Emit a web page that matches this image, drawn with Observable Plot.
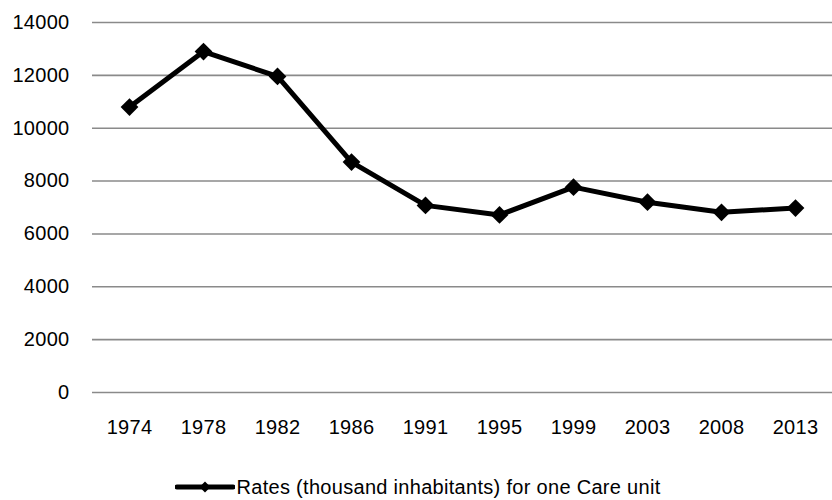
<!DOCTYPE html>
<html>
<head>
<meta charset="utf-8">
<script src="https://cdn.jsdelivr.net/npm/d3@7"></script>
<script src="https://cdn.jsdelivr.net/npm/@observablehq/plot@0.6"></script>
<style>
  html, body { margin: 0; padding: 0; background: #fff; }
  body { width: 832px; font-family: "Liberation Sans", Arial, Helvetica, sans-serif; }
  #legend {
    display: flex; justify-content: center; align-items: center;
    height: 24px; margin-top: 13px; font-size: 20px; letter-spacing: 0.3px; color: #000;
    padding-left: 4px;
  }
  #legend svg { display: block; margin-right: 1px; }
</style>
</head>
<body>
<div id="chart"></div>
<div id="legend"></div>
<script>
// Years surveyed and the matching rate of thousand inhabitants per care unit
const years = ["1974", "1978", "1982", "1986", "1991", "1995", "1999", "2003", "2008", "2013"];
const rates = [10800, 12900, 11960, 8720, 7080, 6720, 7770, 7200, 6820, 6980];
const yTicks = [0, 2000, 4000, 6000, 8000, 10000, 12000, 14000];
const seriesName = "Rates (thousand inhabitants) for one Care unit";

const data = years.map((year, i) => ({year, rate: rates[i]}));

const chart = Plot.plot({
  width: 832,
  height: 462,
  marginTop: 22,
  marginBottom: 70,
  marginLeft: 92,
  marginRight: 0,
  style: {fontFamily: '"Liberation Sans", Arial, Helvetica, sans-serif', fontSize: "20px", letterSpacing: "0.3px", color: "#000", background: "#fff"},
  x: {type: "band", domain: years, padding: 0, align: 0.5, label: null, tickSize: 0, tickPadding: 27},
  y: {domain: [0, 14000], ticks: yTicks, label: null, tickSize: 0, tickPadding: 23, tickFormat: d => String(d)},
  marks: [
    Plot.ruleY(yTicks, {stroke: "#8a8a8a", strokeWidth: 1.6}),
    Plot.line(data, {x: "year", y: "rate", stroke: "#000", strokeWidth: 5, strokeLinejoin: "round"}),
    Plot.dot(data, {x: "year", y: "rate", symbol: "diamond2", r: 8, fill: "#000", stroke: "none"})
  ]
});
document.getElementById("chart").appendChild(chart);

// Legend: line sample with a diamond marker, then the series name
const legend = document.getElementById("legend");
const ns = "http://www.w3.org/2000/svg";
const sym = document.createElementNS(ns, "svg");
sym.setAttribute("width", 60);
sym.setAttribute("height", 14);
const ln = document.createElementNS(ns, "line");
ln.setAttribute("x1", 2); ln.setAttribute("x2", 58);
ln.setAttribute("y1", 7); ln.setAttribute("y2", 7);
ln.setAttribute("stroke", "#000"); ln.setAttribute("stroke-width", 5);
ln.setAttribute("stroke-linecap", "round");
sym.appendChild(ln);
const dm = document.createElementNS(ns, "path");
dm.setAttribute("d", "M30,1.5 L35.5,7 L30,12.5 L24.5,7 Z");
dm.setAttribute("fill", "#000");
sym.appendChild(dm);
legend.appendChild(sym);
const label = document.createElement("span");
label.textContent = seriesName;
legend.appendChild(label);
</script>
</body>
</html>
